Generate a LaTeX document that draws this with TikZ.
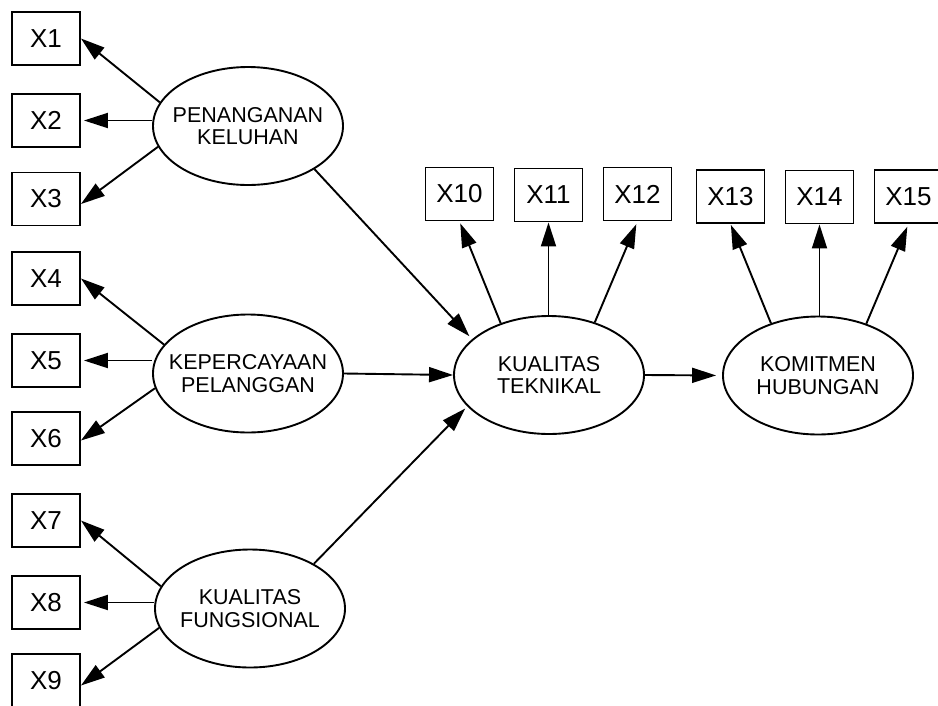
\documentclass[tikz,border=0pt]{standalone}
\usepackage{fontspec}
\setmainfont{Liberation Sans}
\usetikzlibrary{arrows.meta,shapes.geometric}
\begin{document}
\begin{tikzpicture}[x=1pt,y=-1pt,
  box/.style={draw,line width=1.9pt,minimum width=68pt,minimum height=53pt,inner sep=0pt,font=\fontsize{26}{28}\selectfont},
  lat/.style={draw,ellipse,line width=1.9pt,minimum width=190pt,minimum height=118pt,inner sep=0pt},
  lattext/.style={align=center,inner sep=0pt,font=\fontsize{21.5}{22.5}\selectfont},
  arr/.style={line width=1.9pt,-{Triangle[length=24pt,width=15pt]}}]
\useasboundingbox (0,0) rectangle (938,705);
\clip (0,0) rectangle (938,705);
% indicator boxes
\node[box] (X1) at (46,38.5) {X1};
\node[box] (X2) at (46,120.5) {X2};
\node[box] (X3) at (46,199) {X3};
\node[box] (X4) at (46,278.5) {X4};
\node[box] (X5) at (46,360.5) {X5};
\node[box] (X6) at (46,438.5) {X6};
\node[box] (X7) at (46,520.5) {X7};
\node[box] (X8) at (46,602.5) {X8};
\node[box] (X9) at (46,680.5) {X9};
\node[box] (X10) at (459.5,194) {X10};
\node[box] (X11) at (548.5,195) {X11};
\node[box] (X12) at (637.5,194) {X12};
\node[box] (X13) at (730.5,196.5) {X13};
\node[box] (X14) at (819.5,197) {X14};
\node[box] (X15) at (908.5,196.5) {X15};
% latent variables
\node[lat,label={[lattext,name=PKt]center:PENANGANAN\\KELUHAN}] (PK) at (248,126) {};
\node[lat,label={[lattext,name=KPt]center:KEPERCAYAAN\\PELANGGAN}] (KP) at (248,373.5) {};
\node[lat,label={[lattext,name=KFt]center:KUALITAS\\FUNGSIONAL}] (KF) at (250,608.5) {};
\node[lat,label={[lattext,name=KTt]center:KUALITAS\\TEKNIKAL}] (KT) at (549,375) {};
\node[lat,label={[lattext,name=KOMt]center:KOMITMEN\\HUBUNGAN}] (KOM) at (818,375.5) {};
% loadings left
\draw[arr] (PK.165) -- (X1.east);
\draw[arr,shorten >=3pt] (X2.east -| PK.west) -- (X2.east);
\draw[arr] (PK.193) -- ([yshift=-5pt]X3.east);
\draw[arr] (KP.161) -- (X4.east);
\draw[arr,shorten >=3pt] (X5.east -| KP.west) -- (X5.east);
\draw[arr] (KP.189) -- ([yshift=-2pt]X6.east);
\draw[arr] (KF.166) -- (X7.east);
\draw[arr,shorten >=3pt] (X8.east -| KF.west) -- (X8.east);
\draw[arr] (KF.192) -- ([yshift=-5pt]X9.east);
% loadings top
\draw[arr,shorten >=2pt] (KT.133) -- (X10.south);
\draw[arr] (X11.south |- KT.north) -- (X11.south);
\draw[arr,shorten >=3pt] (KT.49) -- (X12.south);
\draw[arr,shorten >=1pt] (KOM.132) -- (X13.south);
\draw[arr] (X14.south |- KOM.north) -- (X14.south);
\draw[arr,shorten >=3pt] (KOM.47) -- (X15.south);
% structural paths
\draw[arr,shorten >=4pt] (PK.327) -- (KT.155);
\draw[arr] (KP.east) -- (KT.west);
\draw[arr,shorten >=3pt] (KF.35) -- (KT.201);
\draw[arr,shorten >=6pt] (KT.east) -- (KOM.west);
\end{tikzpicture}
\end{document}
